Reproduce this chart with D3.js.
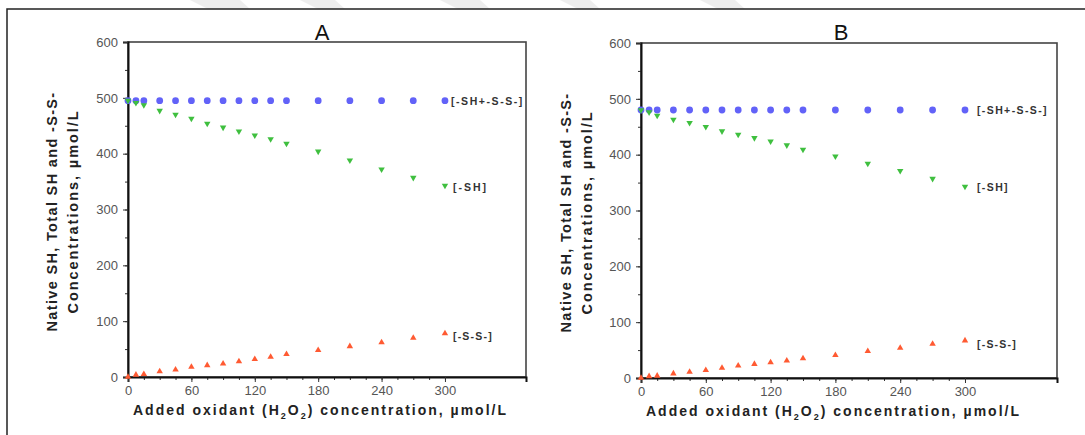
<!DOCTYPE html>
<html>
<head>
<meta charset="utf-8">
<script src="https://cdn.jsdelivr.net/npm/d3@7"></script>
<style>
  html, body { margin: 0; padding: 0; background: #fff; }
  svg { display: block; font-family: "Liberation Sans", Arial, sans-serif; }
</style>
</head>
<body>
<svg id="chart" width="1085" height="435"></svg>
<script>
// ---------- data ----------
const xValues = [0, 7.5, 15, 30, 45, 60, 75, 90, 105, 120, 135, 150, 180, 210, 240, 270, 300];

const totalA = [495, 495, 495, 495, 495, 495, 495, 495, 495, 495, 495, 495, 495, 495, 495, 495, 495];
const shA    = [495, 491, 487, 477, 470, 463, 454, 447, 440, 433, 426, 418, 404, 388, 372, 357, 343];
const ssA    = [0, 4, 5, 10, 13, 18, 21, 24, 28, 32, 36, 41, 48, 55, 62, 70, 78];

const totalB = [480, 480, 480, 480, 480, 480, 480, 480, 480, 480, 480, 480, 480, 480, 480, 480, 480];
const shB    = [480, 476, 470, 463, 457, 450, 442, 436, 430, 424, 417, 409, 397, 384, 371, 357, 343];
const ssB    = [0, 3, 4, 8, 11, 14, 18, 22, 25, 28, 31, 35, 41, 48, 54, 61, 67];

const panelTitles = ["A", "B"];
const seriesLabels = ["[-SH+-S-S-]", "[-SH]", "[-S-S-]"];
const xMajorTicks = [0, 60, 120, 180, 240, 300];
const xMinorTicks = d3.range(0, 301, 15);
const yMajorTicks = [0, 100, 200, 300, 400, 500, 600];
const yMinorTicks = d3.range(0, 601, 50);
const yTitleLines = ["Native SH, Total SH and -S-S-", "Concentrations, \u00b5mol/L"];

// ---------- layout ----------
const svg = d3.select("#chart");
const colors = { total: "#6262f8", sh: "#3fbf3f", ss: "#ff5a32" };

// watermark remnants at top
const wm = svg.append("g").attr("fill", "#eeeeee");
[[190, 240], [300, 335], [440, 480], [560, 590], [700, 735]].forEach(([a, b]) => {
  wm.append("path").attr("d", `M${a},0 L${b},0 L${b + 10},9 L${a + 18},9 Z`);
});

// outer frame
svg.append("rect").attr("x", 7).attr("y", 9).attr("width", 1100).attr("height", 460)
  .attr("fill", "none").attr("stroke", "#222").attr("stroke-width", 1.5);

const panels = [
  { title: panelTitles[0], titleX: 322, left: 128, right: 526, top: 42, bottom: 377, xMax: 376.7,
    total: totalA, sh: shA, ss: ssA, yT1: 52, yT2: 73, labelDx: [6, 8, 8], labelDy: [2, 3, 4],
    labelW: [73, 35, 40] },
  { title: panelTitles[1], titleX: 841, left: 641, right: 1057, top: 43, bottom: 378, xMax: 385.2,
    total: totalB, sh: shB, ss: ssB, yT1: 566, yT2: 587, labelDx: [12, 12, 12], labelDy: [1, 2, 5],
    labelW: [71, 32, 40] }
];

function fitText(sel, target) {
  const node = sel.node();
  const w = node.getComputedTextLength();
  const n = sel.text().length;
  sel.attr("letter-spacing", ((target - w) / n).toFixed(3));
}

panels.forEach((p, pi) => {
  const x = d3.scaleLinear().domain([0, p.xMax]).range([p.left, p.right]);
  const y = d3.scaleLinear().domain([0, 600]).range([p.bottom, p.top]);
  const g = svg.append("g");

  // title
  g.append("text").attr("x", p.titleX).attr("y", 40).attr("text-anchor", "middle")
    .attr("font-family", "'Liberation Sans Narrow', 'Liberation Sans', Arial, sans-serif")
    .attr("font-size", 22).attr("fill", "#111").text(p.title);

  // plot frame
  g.append("rect").attr("x", p.left).attr("y", p.top)
    .attr("width", p.right - p.left).attr("height", p.bottom - p.top)
    .attr("fill", "none").attr("stroke", "#444").attr("stroke-width", 1.6);

  // y axis
  const yMinor = d3.axisLeft(y).tickValues(yMinorTicks).tickSize(3).tickFormat("");
  g.append("g").attr("transform", `translate(${p.left},0)`).call(yMinor)
    .call(s => s.select(".domain").remove())
    .selectAll("line").attr("stroke", "#333");
  const yAxis = d3.axisLeft(y).tickValues(yMajorTicks).tickSize(5).tickPadding(5);
  g.append("g").attr("transform", `translate(${p.left},0)`).call(yAxis)
    .call(s => s.select(".domain").attr("stroke", "#111").attr("stroke-width", 2))
    .call(s => s.selectAll("line").attr("stroke", "#333"))
    .call(s => s.selectAll("text").attr("font-size", 13).attr("fill", "#555")
      .attr("font-family", "'Liberation Sans', Arial, sans-serif"));

  // x axis
  const xMinor = d3.axisBottom(x).tickValues(xMinorTicks).tickSize(3).tickFormat("");
  g.append("g").attr("transform", `translate(0,${p.bottom})`).call(xMinor)
    .call(s => s.select(".domain").remove())
    .selectAll("line").attr("stroke", "#333");
  const xAxis = d3.axisBottom(x).tickValues(xMajorTicks).tickSize(5).tickPadding(4);
  g.append("g").attr("transform", `translate(0,${p.bottom})`).call(xAxis)
    .call(s => s.select(".domain").attr("stroke", "#111").attr("stroke-width", 2))
    .call(s => s.selectAll("line").attr("stroke", "#333"))
    .call(s => s.selectAll("text").attr("font-size", 13).attr("fill", "#555")
      .attr("font-family", "'Liberation Sans', Arial, sans-serif"));

  // x axis title
  const xt = g.append("text").attr("x", p.left + 5).attr("y", p.bottom + 38)
    .attr("font-size", 14).attr("font-weight", "bold").attr("fill", "#222");
  xt.append("tspan").text("Added oxidant (H");
  xt.append("tspan").attr("font-size", 9).attr("dy", 4).text("2");
  xt.append("tspan").attr("dy", -4).text("O");
  xt.append("tspan").attr("font-size", 9).attr("dy", 4).text("2");
  xt.append("tspan").attr("dy", -4).text(") concentration, \u00b5mol/L");
  {
    const w = xt.node().getComputedTextLength();
    const n = "Added oxidant (H2O2) concentration, \u00b5mol/L".length;
    xt.attr("letter-spacing", ((375 - w) / n).toFixed(3));
  }

  // y axis title
  const yc = (p.top + p.bottom) / 2 + 2;
  const t1 = g.append("text").attr("transform", `translate(${p.yT1 + 5},${yc}) rotate(-90)`)
    .attr("text-anchor", "middle").attr("font-size", 14.5).attr("font-weight", "bold")
    .attr("fill", "#222").text(yTitleLines[0]);
  fitText(t1, 240);
  const t2 = g.append("text").attr("transform", `translate(${p.yT2 + 5},${yc}) rotate(-90)`)
    .attr("text-anchor", "middle").attr("font-size", 14.5).attr("font-weight", "bold")
    .attr("fill", "#222").text(yTitleLines[1]);
  fitText(t2, 204);

  // series
  const series = [
    { vals: p.total, color: colors.total, sym: "circle" },
    { vals: p.sh, color: colors.sh, sym: "down" },
    { vals: p.ss, color: colors.ss, sym: "up" }
  ];
  series.forEach((s, si) => {
    const pts = g.append("g");
    xValues.forEach((xv, i) => {
      const cx = x(xv), cy = y(s.vals[i]);
      if (s.sym === "circle") {
        pts.append("circle").attr("cx", cx).attr("cy", cy).attr("r", 3.4).attr("fill", s.color);
      } else {
        pts.append("path").attr("d", d3.symbol(d3.symbolTriangle, 18)())
          .attr("transform", `translate(${cx},${cy})` + (s.sym === "down" ? " rotate(180)" : ""))
          .attr("fill", s.color);
      }
    });
    const last = xValues.length - 1;
    const lbl = g.append("text")
      .attr("x", x(xValues[last]) + p.labelDx[si])
      .attr("y", y(s.vals[last]) + p.labelDy[si])
      .attr("dominant-baseline", "middle")
      .attr("font-size", 10.5).attr("font-weight", "bold").attr("fill", "#333")
      .text(seriesLabels[si]);
    fitText(lbl, p.labelW[si]);
  });
});
</script>
</body>
</html>
